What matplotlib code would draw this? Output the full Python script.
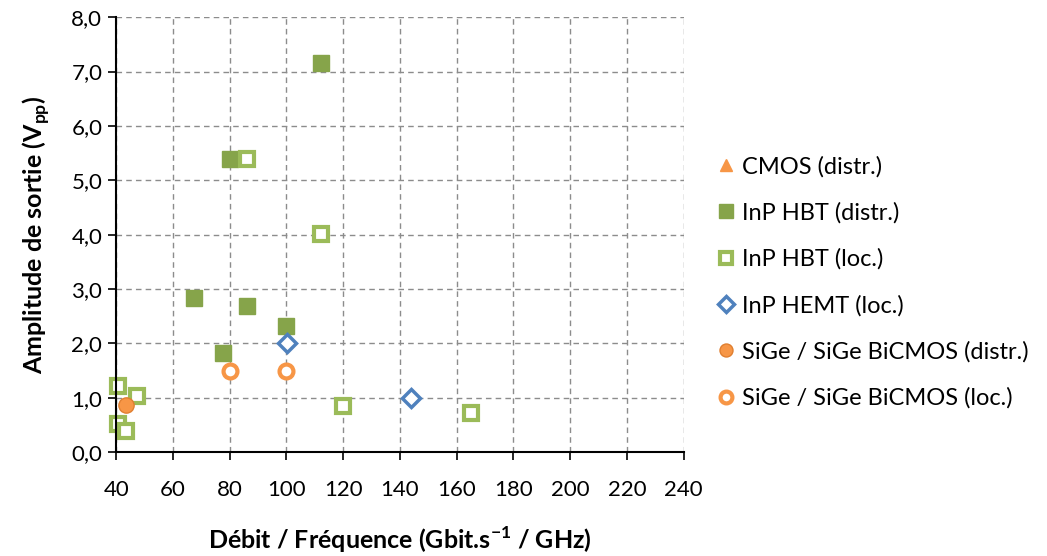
import matplotlib
matplotlib.use('Agg')
import matplotlib.pyplot as plt
from matplotlib.ticker import MultipleLocator, FuncFormatter

plt.rcParams['font.family'] = ['Lato', 'DejaVu Sans']

# data
cmos_d_x = []
cmos_d_y = []
hbt_d_x = [112, 80, 67.5, 86, 100, 77.5]
hbt_d_y = [7.15, 5.4, 2.83, 2.69, 2.31, 1.83]
hbt_l_x = [86, 112, 40.5, 47.5, 120, 165, 40.5, 43.5]
hbt_l_y = [5.4, 4.02, 1.22, 1.03, 0.85, 0.71, 0.52, 0.38]
hemt_l_x = [100.3, 144]
hemt_l_y = [2.0, 1.0]
sige_d_x = [43.5]
sige_d_y = [0.86]
sige_l_x = [80, 100]
sige_l_y = [1.5, 1.5]

orange = '#F79646'
green_d = '#86A44A'
green_l = '#9BBB59'
blue = '#4F81BD'

fig = plt.figure(figsize=(10.47, 5.56), dpi=100)
ax = fig.add_axes([0.111, 0.187, 0.542, 0.782])

ax.plot(cmos_d_x, cmos_d_y, ls='none', marker='^', ms=11, color=orange,
        label='CMOS (distr.)')
ax.plot(hbt_d_x, hbt_d_y, ls='none', marker='s', ms=12, color=green_d,
        label='InP HBT (distr.)', clip_on=False)
ax.plot(hbt_l_x, hbt_l_y, ls='none', marker='s', ms=10, mfc='white',
        mec=green_l, mew=3, label='InP HBT (loc.)', clip_on=False)
ax.plot(hemt_l_x, hemt_l_y, ls='none', marker='D', ms=9, mfc='white',
        mec=blue, mew=2.5, label='InP HEMT (loc.)', clip_on=False)
ax.plot(sige_d_x, sige_d_y, ls='none', marker='o', ms=11, color=orange,
        mec='#E07F30', label='SiGe / SiGe BiCMOS (distr.)', clip_on=False)
ax.plot(sige_l_x, sige_l_y, ls='none', marker='o', ms=10, mfc='white',
        mec=orange, mew=3, label='SiGe / SiGe BiCMOS (loc.)', clip_on=False)

ax.set_xlim(40, 240)
ax.set_ylim(0, 8)
ax.xaxis.set_major_locator(MultipleLocator(20))
ax.yaxis.set_major_locator(MultipleLocator(1))
ax.yaxis.set_major_formatter(FuncFormatter(lambda v, p: ('%.1f' % v).replace('.', ',')))
ax.grid(True, ls=(0, (4, 3)), color='#8c8c8c', lw=1)
ax.set_axisbelow(True)
for s in ['top', 'right']:
    ax.spines[s].set_visible(False)
for s in ['left', 'bottom']:
    ax.spines[s].set_linewidth(1.5)
ax.tick_params(axis='both', direction='out', length=6, width=1.2, labelsize=16)
ax.tick_params(axis='x', pad=14)
ax.tick_params(axis='y', pad=4)
ax.set_xlabel('Débit / Fréquence (Gbit.s$^{\\mathregular{-1}}$ / GHz)',
              fontsize=18, fontweight='bold', labelpad=18)
ax.set_ylabel('Amplitude de sortie (V$_{\\mathregular{pp}}$)',
              fontsize=18, fontweight='bold', labelpad=14)

ax.legend(loc='center left', bbox_to_anchor=(1.025, 0.39), frameon=False,
          fontsize=17, handlelength=0.6, handletextpad=0.35, labelspacing=1.05,
          markerscale=0.85)

fig.savefig('out.png', dpi=100)
